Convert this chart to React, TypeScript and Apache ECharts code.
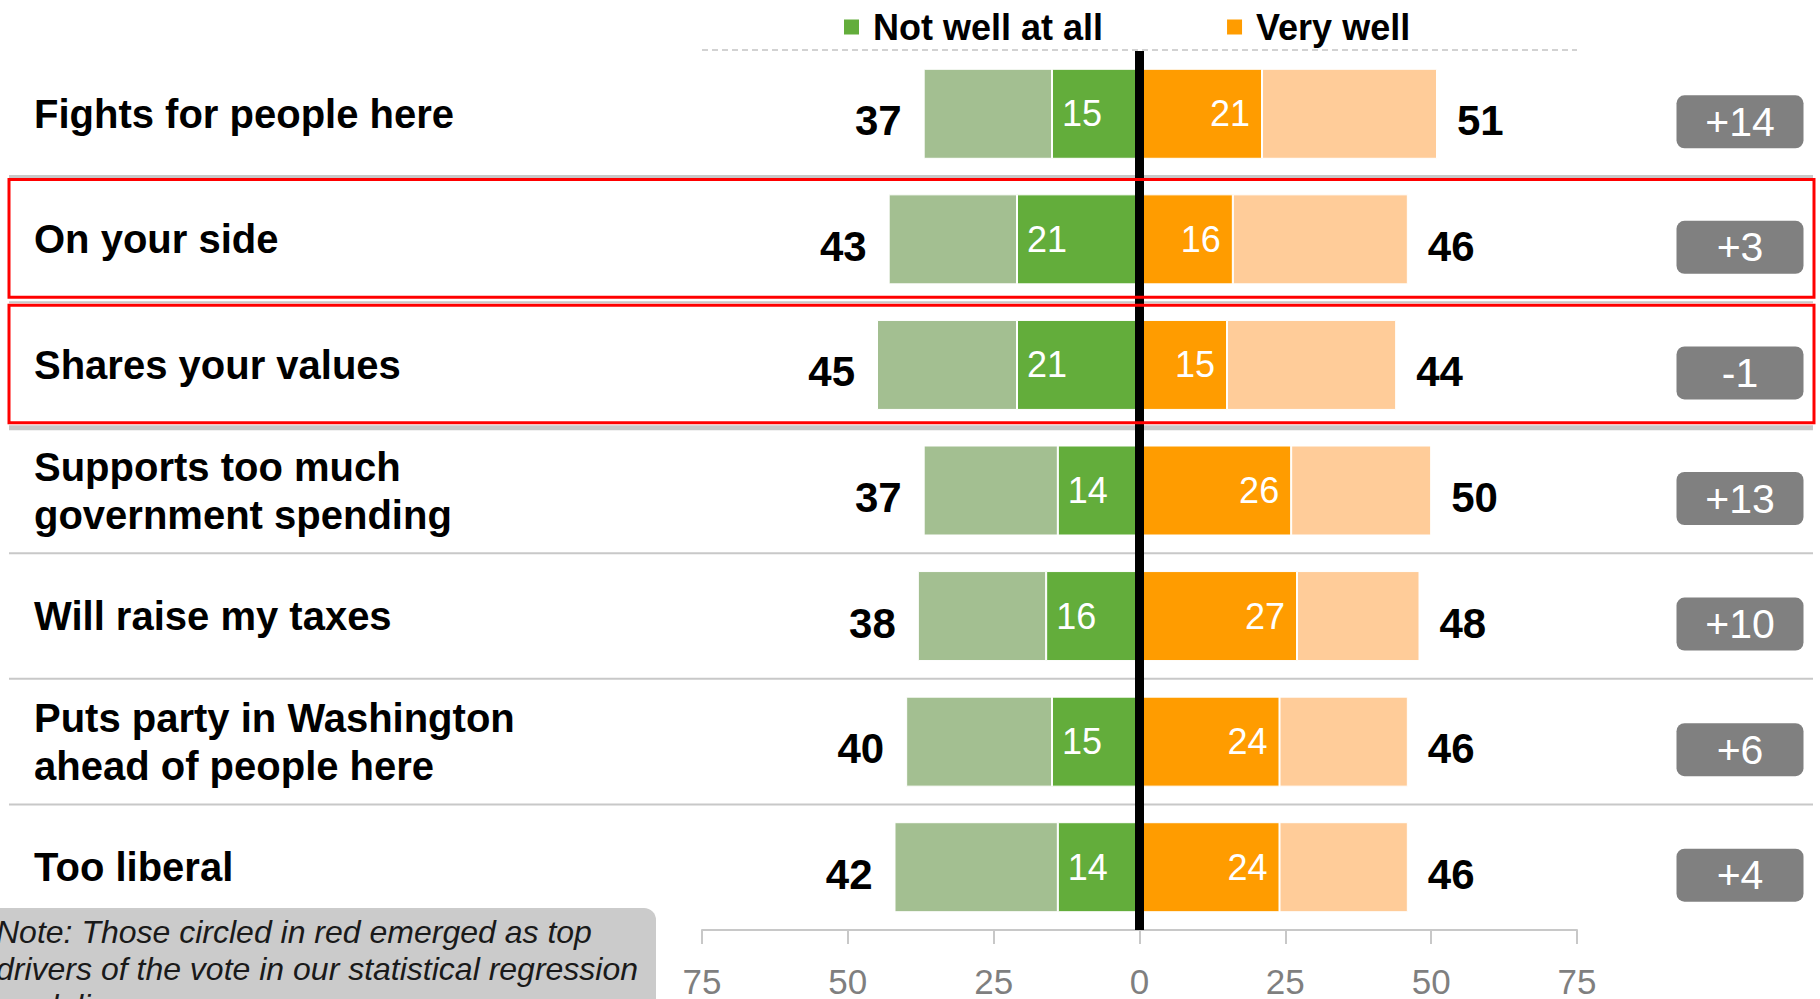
import React, { useEffect, useRef } from 'react';
import * as echarts from 'echarts';

// ---- data ----
const categories = [
  'Fights for people here',
  'On your side',
  'Shares your values',
  'Supports too much\ngovernment spending',
  'Will raise my taxes',
  'Puts party in Washington\nahead of people here',
  'Too liberal',
];
const notWellAtAll = [15, 21, 21, 14, 16, 15, 14]; // strong negative
const notWellTotal = [37, 43, 45, 37, 38, 40, 42]; // total negative
const veryWell = [21, 16, 15, 26, 27, 24, 24]; // strong positive
const wellTotal = [51, 46, 44, 50, 48, 46, 46]; // total positive
const highlightedRows = [1, 2]; // circled in red
const xMin = -75;
const xMax = 75;
const xInterval = 25;
const legendNames = ['Not well at all', 'Very well'];
const noteText =
  'Note: Those circled in red emerged as top\ndrivers of the vote in our statistical regression\nmodeling';

const netLabels = wellTotal.map((w, i) => {
  const d = w - notWellTotal[i];
  return d > 0 ? `+${d}` : `${d}`;
});

const FONT = "'Liberation Sans', Arial, Helvetica, sans-serif";

export default function App() {
  const ref = useRef<HTMLDivElement>(null);

  useEffect(() => {
    document.body.style.margin = '0';
    const chart = echarts.init(ref.current!, null, { renderer: 'svg' });

    const barCommon = {
      type: 'bar',
      stack: 'total',
      barWidth: 90,
      emphasis: { disabled: true },
    };

    const option: any = {
      animation: false,
      textStyle: { fontFamily: FONT },
      legend: {
        data: legendNames,
        left: 837,
        top: 4,
        icon: 'rect',
        itemWidth: 17,
        itemHeight: 17,
        itemGap: 122,
        selectedMode: false,
        textStyle: {
          fontSize: 36,
          fontWeight: 'bold',
          color: '#000',
          fontFamily: FONT,
          padding: [0, 0, 0, 8],
        },
      },
      grid: { left: 702, right: 243, top: 51, bottom: 69 },
      xAxis: {
        type: 'value',
        min: xMin,
        max: xMax,
        interval: xInterval,
        splitLine: { show: false },
        axisLine: { show: true, lineStyle: { color: '#c8c8c8', width: 2 } },
        axisTick: { show: true, length: 14, lineStyle: { color: '#c8c8c8', width: 2 } },
        axisLabel: {
          formatter: (v: number) => `${Math.abs(v)}`,
          color: '#7f7f7f',
          fontSize: 35,
          lineHeight: 36,
          margin: 33,
          fontFamily: FONT,
        },
      },
      yAxis: [
        {
          type: 'category',
          data: categories,
          inverse: true,
          axisLine: { show: false, onZero: false },
          axisTick: { show: false },
          splitLine: { show: false },
          axisLabel: {
            align: 'left',
            margin: 668,
            fontSize: 40,
            fontWeight: 'bold',
            color: '#000',
            lineHeight: 48,
            fontFamily: FONT,
          },
        },
        {
          type: 'category',
          data: netLabels,
          inverse: true,
          position: 'right',
          axisLine: { show: false, onZero: false },
          axisTick: { show: false },
          splitLine: { show: false },
          axisLabel: {
            align: 'center',
            margin: 163,
            formatter: (v: string) => `{s| }\n{b|${v}}`,
            rich: {
              s: { height: 16, lineHeight: 16, fontSize: 10 },
              b: {
                width: 127,
                height: 53,
                lineHeight: 53,
                align: 'center',
                backgroundColor: '#808080',
                borderRadius: 8,
                color: '#fff',
                fontSize: 41,
                fontFamily: FONT,
              },
            },
          },
        },
      ],
      series: [
        {
          ...barCommon,
          name: 'Not well at all',
          data: notWellAtAll.map((v) => -v),
          itemStyle: { color: '#63ad3b', borderColor: '#fff', borderWidth: 1 },
          label: {
            show: true,
            position: 'insideLeft',
            distance: 10,
            color: '#fff',
            fontSize: 36,
            fontFamily: FONT,
            formatter: (p: any) => `${Math.abs(p.value)}`,
          },
        },
        {
          ...barCommon,
          name: 'Not well (total)',
          data: notWellTotal.map((t, i) => -(t - notWellAtAll[i])),
          itemStyle: { color: '#a3bf91', borderColor: '#fff', borderWidth: 1 },
          label: {
            show: true,
            position: 'left',
            distance: 22,
            offset: [0, 7],
            color: '#000',
            fontSize: 42,
            fontWeight: 'bold',
            fontFamily: FONT,
            formatter: (p: any) => `${notWellTotal[p.dataIndex]}`,
          },
        },
        {
          ...barCommon,
          name: 'Very well',
          data: veryWell,
          itemStyle: { color: '#ff9c00', borderColor: '#fff', borderWidth: 1 },
          label: {
            show: true,
            position: 'insideRight',
            distance: 12,
            color: '#fff',
            fontSize: 36,
            fontFamily: FONT,
            formatter: (p: any) => `${p.value}`,
          },
        },
        {
          ...barCommon,
          name: 'Well (total)',
          data: wellTotal.map((t, i) => t - veryWell[i]),
          itemStyle: { color: '#ffcc99', borderColor: '#fff', borderWidth: 1 },
          label: {
            show: true,
            position: 'right',
            distance: 20,
            offset: [0, 7],
            color: '#000',
            fontSize: 42,
            fontWeight: 'bold',
            fontFamily: FONT,
            formatter: (p: any) => `${wellTotal[p.dataIndex]}`,
          },
          markLine: {
            silent: true,
            symbol: ['none', 'none'],
            label: { show: false },
            lineStyle: { color: '#000', width: 9, type: 'solid' },
            emphasis: { disabled: true },
            data: [{ xAxis: 0 }],
          },
        },
      ],
    };

    chart.setOption(option);

    // decorations positioned from the chart's own scales
    const centers = categories.map((_, i) => chart.convertToPixel({ yAxisIndex: 0 }, i) as number);
    const band = centers[1] - centers[0];
    const bounds: number[] = [];
    for (let i = 0; i <= categories.length; i++) {
      bounds.push(i === 0 ? centers[0] - band / 2 : centers[i - 1] + band / 2);
    }
    const xL = chart.convertToPixel({ xAxisIndex: 0 }, xMin) as number;
    const xR = chart.convertToPixel({ xAxisIndex: 0 }, xMax) as number;

    const graphics: any[] = [];
    graphics.push({
      type: 'line',
      shape: { x1: xL, y1: bounds[0] - 1, x2: xR, y2: bounds[0] - 1 },
      style: { stroke: '#c4c4c4', lineWidth: 1.5, lineDash: [6, 4] },
      silent: true,
    });
    for (let k = 1; k < categories.length; k++) {
      const w = k === 3 ? 5 : k === 1 ? 3 : 2;
      graphics.push({
        type: 'line',
        shape: { x1: 9, y1: bounds[k], x2: 1813, y2: bounds[k] },
        style: { stroke: '#c8c8c8', lineWidth: w },
        silent: true,
      });
    }
    highlightedRows.forEach((r) => {
      graphics.push({
        type: 'rect',
        shape: { x: 9, y: bounds[r] + 3, width: 1805, height: bounds[r + 1] - bounds[r] - 8 },
        style: { stroke: '#ff0000', lineWidth: 3, fill: 'none' },
        silent: true,
        z: 10,
      });
    });
    graphics.push({
      type: 'rect',
      shape: { x: -14, y: 908, width: 670, height: 120, r: 12 },
      style: { fill: '#cbcbcb' },
      silent: true,
    });
    graphics.push({
      type: 'text',
      x: -4,
      y: 913,
      style: {
        text: noteText,
        font: `italic 32px ${FONT}`,
        lineHeight: 37,
        fill: '#1a1a1a',
        verticalAlign: 'top',
        align: 'left',
      },
      silent: true,
    });

    chart.setOption({ graphic: graphics });

    return () => chart.dispose();
  }, []);

  return <div ref={ref} style={{ width: 1820, height: 999 }} />;
}
